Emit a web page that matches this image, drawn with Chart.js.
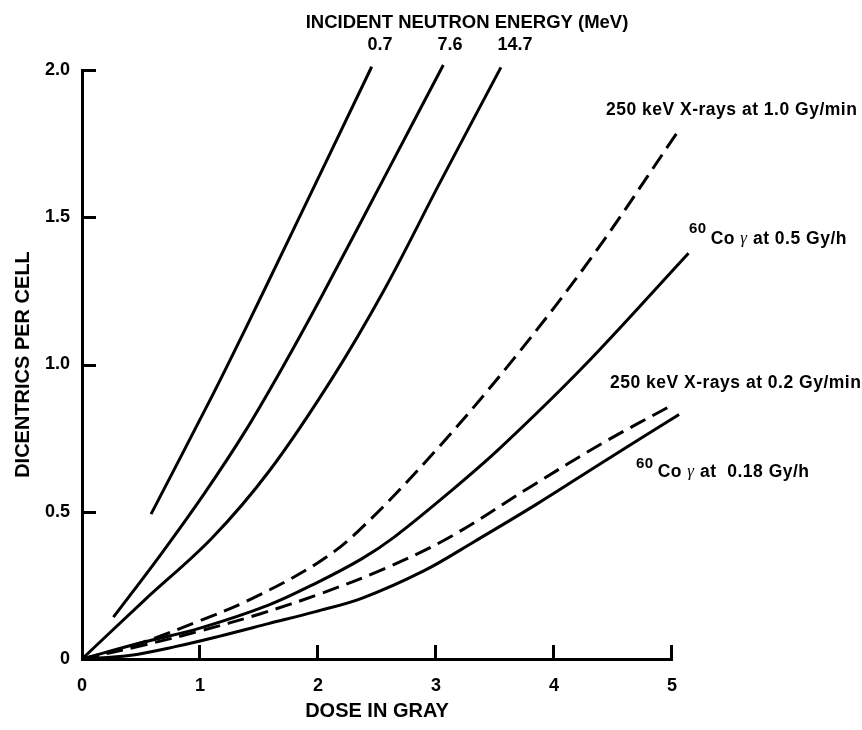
<!DOCTYPE html>
<html>
<head>
<meta charset="utf-8">
<script src="https://cdn.jsdelivr.net/npm/chart.js@4.4.0/dist/chart.umd.js"></script>
<style>
  html, body { margin: 0; padding: 0; background: #fff; }
  #wrap { position: relative; width: 862px; height: 730px; }
</style>
</head>
<body>
<div id="wrap"><canvas id="chart" width="862" height="730"></canvas></div>
<script>
// axis ticks
const xTicks = [0, 1, 2, 3, 4, 5];
const yTicks = [0, 0.5, 1.0, 1.5, 2.0];

// dose (Gy) -> dicentrics per cell
const n07Dose   = [0.585, 1.1, 1.38, 1.75, 2.455];
const n07Yield  = [0.492, 0.891, 1.117, 1.423, 2.011];

const n76Dose   = [0.266, 0.675, 1.042, 1.381, 1.692, 2.031, 2.61, 3.062];
const n76Yield  = [0.142, 0.359, 0.565, 0.772, 0.985, 1.232, 1.672, 2.017];

const n147Dose  = [0, 0.53, 1.1, 1.59, 2.12, 2.57, 3.03, 3.55];
const n147Yield = [0, 0.2, 0.41, 0.64, 0.953, 1.26, 1.615, 2.009];

const xr10Dose  = [0, 0.5, 1.0, 1.44, 1.98, 2.33, 2.98, 3.66, 4.33, 5.04];
const xr10Yield = [0, 0.055, 0.13, 0.205, 0.322, 0.43, 0.70, 1.02, 1.37, 1.785];

const co05Dose  = [0, 0.5, 1.0, 1.58, 1.98, 2.37, 2.64, 3.12, 3.54, 4.25, 5.14];
const co05Yield = [0, 0.055, 0.105, 0.183, 0.257, 0.34, 0.412, 0.568, 0.715, 0.993, 1.378];

const xr02Dose  = [0, 0.5, 1.0, 1.5, 2.03, 2.57, 3.1, 3.83, 4.42, 5.0];
const xr02Yield = [0, 0.045, 0.095, 0.152, 0.223, 0.308, 0.41, 0.592, 0.735, 0.862];

const co018Dose  = [0, 0.4, 0.79, 1.19, 1.58, 1.98, 2.37, 2.9, 3.33, 3.85, 4.42, 5.06];
const co018Yield = [0, 0.012, 0.042, 0.08, 0.12, 0.161, 0.206, 0.30, 0.40, 0.525, 0.67, 0.83];

const SANS = "'Liberation Sans', Arial, Helvetica, sans-serif";

function curve(label, xs, ys, dashed) {
    return {
        label: label,
        data: xs.map((x, i) => ({ x: x, y: ys[i] })),
        borderColor: '#000',
        borderWidth: 3,
        borderDash: dashed ? [17, 8] : [],
        borderCapStyle: 'butt',
        pointRadius: 0,
        pointHoverRadius: 0,
        tension: 0.35,
        fill: false,
        clip: false
    };
}

// tick marks point into the plot area
const inwardTicks = {
    id: 'inwardTicks',
    afterDraw(chart) {
        const ctx = chart.ctx;
        const xs = chart.scales.x, ys = chart.scales.y;
        const area = chart.chartArea;
        const len = 14;
        ctx.save();
        ctx.strokeStyle = '#000';
        ctx.lineWidth = 3;
        xTicks.forEach(v => {
            if (v === 0) return;
            const px = Math.round(xs.getPixelForValue(v)) - 0.5;
            ctx.beginPath();
            ctx.moveTo(px, area.bottom);
            ctx.lineTo(px, area.bottom - len);
            ctx.stroke();
        });
        yTicks.forEach(v => {
            if (v === 0) return;
            const py = Math.round(ys.getPixelForValue(v)) + 0.5;
            ctx.beginPath();
            ctx.moveTo(area.left, py);
            ctx.lineTo(area.left + len, py);
            ctx.stroke();
        });
        ctx.restore();
    }
};

// text labels written on the figure
const curveLabels = {
    id: 'curveLabels',
    afterDraw(chart) {
        const ctx = chart.ctx;
        ctx.save();
        ctx.fillStyle = '#000';
        ctx.textBaseline = 'middle';

        ctx.font = 'bold 18.5px ' + SANS;
        ctx.textAlign = 'center';
        ctx.fillText('INCIDENT NEUTRON ENERGY (MeV)', 467, 23);
        ctx.font = 'bold 18px ' + SANS;
        ctx.fillText('0.7', 380, 45);
        ctx.fillText('7.6', 450, 45);
        ctx.fillText('14.7', 515, 45);

        ctx.textAlign = 'left';
        ctx.letterSpacing = '0.5px';
        ctx.font = 'bold 17.5px ' + SANS;
        ctx.fillText('250 keV X-rays at 1.0 Gy/min', 606, 110);
        ctx.fillText('250 keV X-rays at 0.2 Gy/min', 610, 383);

        cobalt(ctx, 689, 239, 10, ' at 0.5 Gy/h');
        cobalt(ctx, 636, 472, 8, ' at  0.18 Gy/h');
        ctx.restore();
    }
};

function cobalt(ctx, x, y, rise, rest) {
    ctx.font = 'bold 15px ' + SANS;
    ctx.fillText('60', x, y - rise);
    x += ctx.measureText('60').width + 4;
    ctx.font = 'bold 17.5px ' + SANS;
    ctx.fillText('Co ', x, y);
    x += ctx.measureText('Co ').width;
    ctx.font = 'italic 17px "Liberation Serif", "Times New Roman", serif';
    ctx.fillText('\u03b3', x, y);
    x += ctx.measureText('\u03b3').width;
    ctx.font = 'bold 17.5px ' + SANS;
    ctx.fillText(rest, x, y);
}

const tickFont = { family: SANS, size: 18, weight: 'bold' };
const titleFont = { family: SANS, size: 20, weight: 'bold' };

new Chart(document.getElementById('chart'), {
    type: 'line',
    data: {
        datasets: [
            curve('0.7 MeV neutrons', n07Dose, n07Yield, false),
            curve('7.6 MeV neutrons', n76Dose, n76Yield, false),
            curve('14.7 MeV neutrons', n147Dose, n147Yield, false),
            curve('250 keV X-rays at 1.0 Gy/min', xr10Dose, xr10Yield, true),
            curve('60Co at 0.5 Gy/h', co05Dose, co05Yield, false),
            curve('250 keV X-rays at 0.2 Gy/min', xr02Dose, xr02Yield, true),
            curve('60Co at 0.18 Gy/h', co018Dose, co018Yield, false)
        ]
    },
    options: {
        responsive: false,
        animation: false,
        devicePixelRatio: 1,
        layout: { padding: { top: 70, right: 190, bottom: 0, left: 0 } },
        plugins: {
            legend: { display: false },
            tooltip: { enabled: false }
        },
        scales: {
            x: {
                type: 'linear',
                min: 0,
                max: 5,
                afterBuildTicks: s => { s.ticks = xTicks.map(v => ({ value: v })); },
                afterFit: s => { s.height = 71; },
                grid: { drawOnChartArea: false, drawTicks: false },
                border: { display: true, color: '#000', width: 3 },
                ticks: { color: '#000', font: tickFont, padding: 16, maxRotation: 0, autoSkip: false },
                title: { display: true, text: 'DOSE IN GRAY', color: '#000', font: titleFont, padding: { top: 0, bottom: 7 } }
            },
            y: {
                type: 'linear',
                min: 0,
                max: 2,
                afterBuildTicks: s => { s.ticks = yTicks.map(v => ({ value: v })); },
                afterFit: s => { s.width = 82; },
                grid: { drawOnChartArea: false, drawTicks: false },
                border: { display: true, color: '#000', width: 3 },
                ticks: {
                    color: '#000',
                    font: tickFont,
                    padding: 12,
                    callback: v => v === 0 ? '0' : v.toFixed(1)
                },
                title: { display: true, text: 'DICENTRICS PER CELL', color: '#000', font: titleFont, padding: { top: 11, bottom: 0 } }
            }
        }
    },
    plugins: [inwardTicks, curveLabels]
});
</script>
</body>
</html>
